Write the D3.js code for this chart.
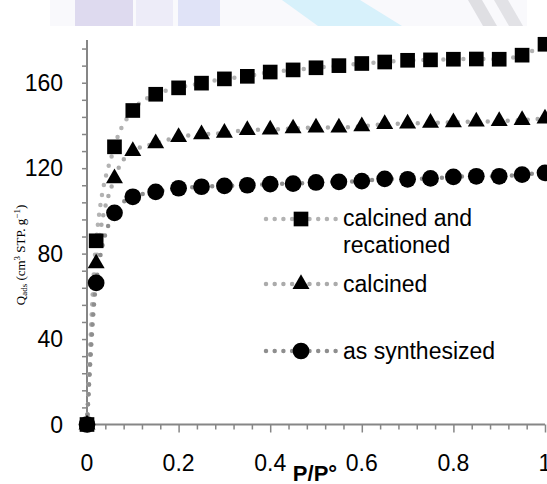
<!DOCTYPE html>
<html>
<head>
<meta charset="utf-8">
<script src="https://cdn.jsdelivr.net/npm/d3@7"></script>
<style>
  body { margin: 0; background: #fff; }
  text { font-family: "Liberation Sans", Arial, sans-serif; }
  text.serif { font-family: "Liberation Serif", "Times New Roman", serif; }
</style>
</head>
<body>
<script>
// Chart size
let width = 547;
let height = 484;

// Data
const pressures = [0, 0.02, 0.06, 0.1, 0.15, 0.2, 0.25, 0.3, 0.35, 0.4, 0.45, 0.5, 0.55, 0.6, 0.65, 0.7, 0.75, 0.8, 0.85, 0.9, 0.95, 1.0];
const recationed = [0, 86, 130, 147, 154.6, 157.6, 159.8, 161.8, 163, 165, 166, 167, 168, 169, 169.7, 170.5, 170.7, 171, 171.1, 171, 172.9, 178];
const calcined = [0, 75.4, 115.2, 128, 131.6, 134.6, 135.8, 136.5, 137.8, 138.1, 138.6, 139, 139, 139.6, 140.6, 140.9, 141.2, 141.5, 141.8, 142, 142.5, 143.2];
const synthesized = [0, 66.3, 99.1, 106.6, 108.9, 110.6, 111.3, 111.7, 112, 112.5, 112.8, 113.3, 113.6, 113.9, 115, 114.8, 115.2, 115.9, 116.2, 116.2, 117, 117.8];

const seriesNames = ["calcined and recationed", "calcined", "as synthesized"];
const xTicks = [0, 0.2, 0.4, 0.6, 0.8, 1];
const xTickLabels = ["0", "0.2", "0.4", "0.6", "0.8", "1"];
const yTicks = [0, 40, 80, 120, 160];

// Colours
let axis_color = "#868686";
let text_color = "#000000";
let marker_color = "#000000";
let dot_colors = ["#b3b3b3", "#ababab", "#8e8e8e"];

let svg = d3.select("body")
  .append("svg")
  .attr("width", width)
  .attr("height", height);

// faded banner strip at the very top
let band = svg.append("g").attr("id", "banner").attr("opacity", 0.6);
band.append("rect").attr("x", 50).attr("y", 0).attr("width", 477).attr("height", 26).attr("fill", "#f6f6fb");
band.append("rect").attr("x", 75).attr("y", 0).attr("width", 58).attr("height", 26).attr("fill", "#c9c3e6");
band.append("rect").attr("x", 136).attr("y", 0).attr("width", 37).attr("height", 26).attr("fill", "#e2e0f4");
band.append("rect").attr("x", 178).attr("y", 0).attr("width", 42).attr("height", 26).attr("fill", "#ccd1f2");
band.append("polygon").attr("points", "282,0 360,0 402,26 318,26").attr("fill", "#bde8fa");
band.append("polygon").attr("points", "468,0 482,0 497,26 483,26").attr("fill", "#cacad2");
band.append("polygon").attr("points", "494,0 508,0 523,26 509,26").attr("fill", "#cfcfd6");

// Plot area
const x = d3.scaleLinear()
  .domain([0, 1])
  .range([87, 545]);

const y = d3.scaleLinear()
  .domain([0, 180])
  .range([424.5, 40]);

// Axes
let xMinor = d3.range(0, 1.0001, 0.04);
let yMinor = d3.range(0, 180.001, 8);

let gx = svg.append("g")
  .attr("transform", `translate(0,${y(0)})`)
  .call(d3.axisBottom(x).tickValues(xMinor).tickSize(5).tickFormat(""));
gx.selectAll("line").attr("stroke", axis_color).attr("stroke-width", 1.5);
gx.select(".domain").remove();
gx.selectAll(".tick").filter(d => Math.abs(d * 5 - Math.round(d * 5)) < 1e-6)
  .select("line").attr("y2", 8);
svg.append("line")
  .attr("x1", x(0)).attr("x2", x(1))
  .attr("y1", y(0)).attr("y2", y(0))
  .attr("stroke", axis_color).attr("stroke-width", 2);

let gy = svg.append("g")
  .attr("transform", `translate(${x(0)},0)`)
  .call(d3.axisLeft(y).tickValues(yMinor).tickSize(5).tickFormat(""));
gy.selectAll("line").attr("stroke", axis_color).attr("stroke-width", 1.5);
gy.select(".domain").remove();
svg.append("line")
  .attr("x1", x(0)).attr("x2", x(0))
  .attr("y1", y(0)).attr("y2", y(180))
  .attr("stroke", axis_color).attr("stroke-width", 2);

// tick labels
svg.selectAll(".xlab")
  .data(xTicks)
  .enter().append("text")
  .attr("class", "xlab")
  .attr("x", d => x(d))
  .attr("y", 471)
  .attr("text-anchor", "middle")
  .attr("font-size", 23)
  .attr("fill", text_color)
  .text((d, i) => xTickLabels[i]);

svg.selectAll(".ylab")
  .data(yTicks)
  .enter().append("text")
  .attr("class", "ylab")
  .attr("x", 63)
  .attr("y", d => y(d) + 8)
  .attr("text-anchor", "end")
  .attr("font-size", 23)
  .attr("fill", text_color)
  .text(d => d);

// axis titles
svg.append("text")
  .attr("x", 315)
  .attr("y", 481)
  .attr("text-anchor", "middle")
  .attr("font-size", 22)
  .attr("font-weight", "bold")
  .attr("fill", text_color)
  .text("P/P°");

let yTitle = svg.append("text")
  .attr("class", "serif")
  .attr("transform", "translate(25,255) rotate(-90)")
  .attr("text-anchor", "middle")
  .attr("font-size", 13)
  .attr("fill", text_color);
yTitle.append("tspan").text("Q");
yTitle.append("tspan").attr("font-size", 9).attr("dy", 2).text("ads");
yTitle.append("tspan").attr("dy", -2).text(" (cm");
yTitle.append("tspan").attr("font-size", 9).attr("dy", -5).text("3");
yTitle.append("tspan").attr("dy", 5).text(" STP. g");
yTitle.append("tspan").attr("font-size", 9).attr("dy", -5).text("\u22121");
yTitle.append("tspan").attr("dy", 5).text(")");

// Series
const allSeries = [recationed, calcined, synthesized];
const symbols = [d3.symbolSquare, d3.symbolTriangle, d3.symbolCircle];
const symbolSizes = [215, 125, 220];

let line = d3.line()
  .x((d, i) => x(pressures[i]))
  .y(d => y(d))
  .curve(d3.curveMonotoneX);

allSeries.forEach((vals, k) => {
  svg.append("path")
    .datum(vals)
    .attr("fill", "none")
    .attr("stroke", dot_colors[k])
    .attr("stroke-width", 4.5)
    .attr("stroke-linecap", "round")
    .attr("stroke-dasharray", "0 10")
    .attr("d", line);
});

allSeries.forEach((vals, k) => {
  svg.selectAll(".m" + k)
    .data(vals)
    .enter().append("path")
    .attr("class", "m" + k)
    .attr("transform", (d, i) => `translate(${x(pressures[i])},${y(d)})`)
    .attr("d", d3.symbol().type(symbols[k]).size(symbolSizes[k]))
    .attr("fill", marker_color);
});

// Legend
const legendRows = [219, 284, 351];
let legend = svg.append("g").attr("id", "legend");
legendRows.forEach((ly, k) => {
  legend.append("line")
    .attr("x1", 266).attr("x2", 336)
    .attr("y1", ly).attr("y2", ly)
    .attr("stroke", dot_colors[k])
    .attr("stroke-width", 4.5)
    .attr("stroke-linecap", "round")
    .attr("stroke-dasharray", "0 8.7");
  legend.append("path")
    .attr("transform", `translate(301,${ly})`)
    .attr("d", d3.symbol().type(symbols[k]).size(symbolSizes[k]))
    .attr("fill", marker_color);
});

legend.append("text").attr("x", 343).attr("y", 226).attr("font-size", 23).text("calcined and");
legend.append("text").attr("x", 343).attr("y", 253).attr("font-size", 23).text("recationed");
legend.append("text").attr("x", 343).attr("y", 292).attr("font-size", 23).text(seriesNames[1]);
legend.append("text").attr("x", 343).attr("y", 359).attr("font-size", 23).text(seriesNames[2]);
</script>
</body>
</html>
